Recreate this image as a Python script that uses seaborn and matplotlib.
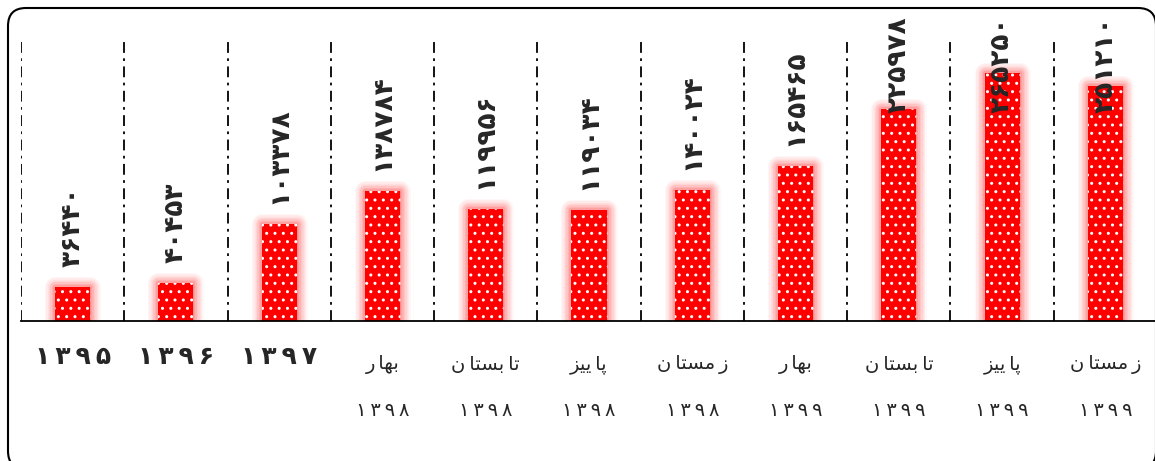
import matplotlib
matplotlib.use("Agg")
import matplotlib.pyplot as plt
import matplotlib.patheffects as pe
from matplotlib.patches import FancyBboxPatch
import seaborn as sns
import pandas as pd

# data
seasons = ["", "", "", "بهار", "تابستان", "پاییز", "زمستان",
           "بهار", "تابستان", "پاییز", "زمستان"]
years = ["۱۳۹۵", "۱۳۹۶", "۱۳۹۷", "۱۳۹۸", "۱۳۹۸", "۱۳۹۸", "۱۳۹۸",
         "۱۳۹۹", "۱۳۹۹", "۱۳۹۹", "۱۳۹۹"]
values = [36440, 40453, 103378, 138784, 119956, 119034, 140024,
          165465, 225978, 265250, 251210]

# matplotlib has no arabic shaping -> visual order presentation forms
TS = "\u2009"
shaped = {
    "بهار": "\uFEAD" + TS + "\uFE8E\uFEEC\uFE91",
    "تابستان": "\uFEE5" + TS + "\uFE8E\uFE98\uFEB4\uFE91" + TS + "\uFE8E\uFE97",
    "پاییز": "\uFEB0\uFEF4\uFEF3" + TS + "\uFE8E\uFB58",
    "زمستان": "\uFEE5" + TS + "\uFE8E\uFE98\uFEB4\uFEE3" + TS + "\uFEAF",
    "": "",
}
fa_digits = str.maketrans("0123456789", "۰۱۲۳۴۵۶۷۸۹")

df = pd.DataFrame(dict(
    period=[(s + " " + y).strip() for s, y in zip(seasons, years)],
    value=values,
))

sns.set_style("white")
plt.rcParams["font.family"] = ["DejaVu Sans"]
plt.rcParams["hatch.linewidth"] = 1.0

fig = plt.figure(figsize=(11.55, 4.61), dpi=100)
ax = fig.add_axes([21 / 1155, 1 - 321 / 461, 1136 / 1155, 281 / 461])

sns.barplot(data=df, x="period", y="value", color="#ff0000", saturation=1,
            width=0.34, edgecolor="white", linewidth=0, hatch="..", ax=ax)

# soft pink glow around the bars
glow = [pe.Stroke(linewidth=w, foreground="#ff2020", alpha=a,
                  joinstyle="round")
        for w, a in [(15, 0.04), (13, 0.05), (11, 0.06), (9, 0.07),
                     (7, 0.08), (5, 0.1), (3, 0.12)]]
glow.append(pe.Normal())
for bar in ax.patches:
    bar.set_path_effects(glow)

ax.set_xlim(-0.5, 10.5)
ax.set_ylim(0, 300000)
ax.set_xlabel("")
ax.set_ylabel("")
ax.set_yticks([])
for side in ["left", "right", "top"]:
    ax.spines[side].set_visible(False)
ax.spines["bottom"].set_linewidth(1.3)
ax.spines["bottom"].set_color("black")

# category separators
ax.set_xticks([i + 0.5 for i in range(-1, 11)], minor=True)
ax.set_xticks(range(len(values)))
ax.set_xticklabels([])
ax.tick_params(axis="x", which="major", length=0)
ax.tick_params(axis="x", which="minor", length=9, width=1.3, color="black",
               direction="out")
ax.grid(False)
ax.grid(True, axis="x", which="minor", color="black", linewidth=1.3,
        linestyle=(0, (6, 3, 1.5, 3)))

# value labels
for i, v in enumerate(values):
    y = min(v + 21000, 222000)
    ax.text(i, y, str(v).translate(fa_digits), rotation=90, ha="center",
            va="bottom", fontsize=19, fontweight="bold", clip_on=False)

# category labels
xtr = ax.get_xaxis_transform()
for i, (s, yr) in enumerate(zip(seasons, years)):
    spaced = TS.join(yr)
    if s == "":
        ax.text(i, -0.128, spaced, transform=xtr, ha="center", va="center",
                fontsize=18, fontweight="bold")
    else:
        ax.text(i, -0.155, shaped[s], transform=xtr, ha="center",
                va="center", fontsize=14)
        ax.text(i, -0.317, spaced, transform=xtr, ha="center", va="center",
                fontsize=14)

# rounded outer frame
frame = FancyBboxPatch((0.08, -0.08), 11.48, 4.61,
                       boxstyle="round,pad=0,rounding_size=0.18",
                       transform=fig.dpi_scale_trans, fill=False,
                       edgecolor="black", linewidth=1.5)
fig.patches.append(frame)

plt.savefig("out.png", dpi=100)
